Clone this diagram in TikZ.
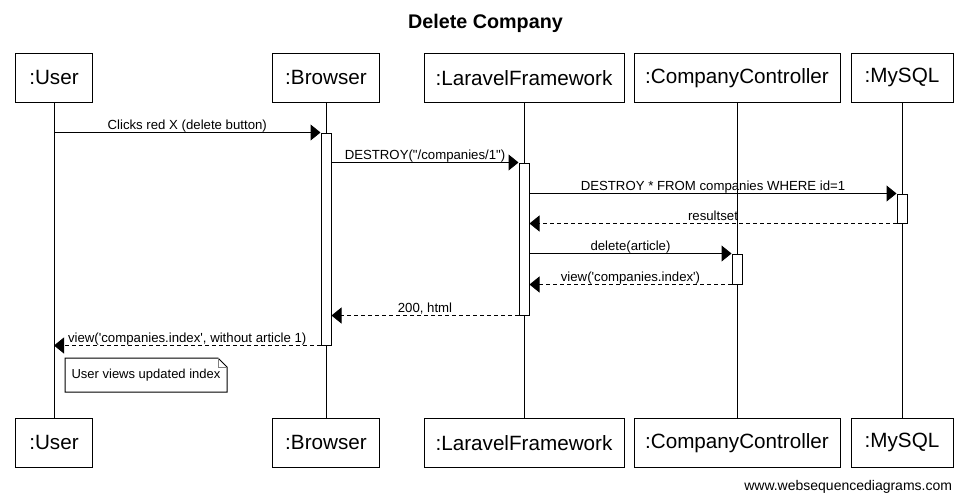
\documentclass[tikz,border=0pt]{standalone}
\usepackage{fontspec}
\setmainfont{Liberation Sans}[Ligatures=TeXOff]
\usetikzlibrary{arrows.meta,calc}

\tikzset{every picture/.style={line width=0.75pt}}
\tikzset{
  actor/.style={draw, fill=white, minimum height=36.75pt, inner sep=0pt, font=\fontsize{15.5pt}{18pt}\selectfont},
  activation/.style={draw, fill=white, minimum width=7.5pt, inner sep=0pt},
  msg/.style={-{Triangle[length=7.5pt,width=12pt]}},
  reply/.style={msg, dash pattern=on 3pt off 2.25pt},
  msglabel/.style={anchor=base, yshift=2.6pt, inner sep=0pt, font=\fontsize{9.9pt}{11pt}\selectfont},
  notebox/.style={inner sep=0pt, minimum width=120.75pt, minimum height=24.75pt, font=\fontsize{9.75pt}{11pt}\selectfont}
}

\begin{document}
\begin{tikzpicture}[x=0.75pt,y=0.75pt,yscale=-1,xscale=1]
\useasboundingbox (0,0) rectangle (967,501);

% Text Node
\node [font=\bfseries\fontsize{14.8pt}{17pt}\selectfont] (title) at (485.5,23) {Delete Company};

%Shape: Rectangle (top participants)
\node [actor, minimum width=58pt] (user) at (54,77.8) {:User};
\node [actor, minimum width=80.8pt] (browser) at (326,77.8) {:Browser};
\node [actor, minimum width=150pt] (laravel) at (524,77.8) {:LaravelFramework};
\node [actor, minimum width=154.5pt] (controller) at (737,77.8) {:CompanyController};
\node [actor, minimum width=76.5pt] (mysql) at (902,77.8) {:MySQL};
%Shape: Rectangle (bottom participants)
\node [actor, minimum width=58pt] (userB) at (54,442.8) {:User};
\node [actor, minimum width=80.8pt] (browserB) at (326,442.8) {:Browser};
\node [actor, minimum width=150pt] (laravelB) at (524,442.8) {:LaravelFramework};
\node [actor, minimum width=154.5pt] (controllerB) at (737,442.8) {:CompanyController};
\node [actor, minimum width=76.5pt] (mysqlB) at (902,442.8) {:MySQL};

%Straight Lines (lifelines)
\draw (user) -- (userB);
\draw (browser) -- (browserB);
\draw (laravel) -- (laravelB);
\draw (controller) -- (controllerB);
\draw (mysql) -- (mysqlB);

%Shape: Rectangle (activations)
\node [activation, minimum height=159pt] (actB) at (326,239) {};
\node [activation, minimum height=114pt] (actL) at (524,239) {};
\node [activation, minimum height=21.75pt] (actM) at (902,208.5) {};
\node [activation, minimum height=22.5pt] (actC) at (737,269) {};

%Straight Lines (messages)
\draw [msg] (actB.north west -| user) -- node [msglabel] {Clicks red X (delete button)} (actB.north west);
\draw [msg] (actB.east |- actL.north) -- node [msglabel] {DESTROY("/companies/1")} (actL.north west);
\draw [msg] (actL.east |- actM.north) -- node [msglabel] {DESTROY * FROM companies WHERE id=1} (actM.north west);
\draw [reply] (actM.south west) -- node [msglabel] {resultset} (actM.south west -| actL.east);
\draw [msg] (actL.east |- actC.north) -- node [msglabel] {delete(article)} (actC.north west);
\draw [reply] (actC.south west) -- node [msglabel] {view('companies.index')} (actC.south west -| actL.east);
\draw [reply] (actL.south west) -- node [msglabel] {200, html} (actL.south west -| actB.east);
\draw [reply] (actB.south west) -- node [msglabel] {view('companies.index', without article 1)} (actB.south west -| user);

%Shape: Note
\node [notebox] (noteUser) at (146,375) {User views updated index};
\draw (noteUser.north west) -- ($(noteUser.north east)+(-9,0)$) -- ($(noteUser.north east)+(0,9)$) -- (noteUser.south east) -- (noteUser.south west) -- cycle;
\draw [gray] ($(noteUser.north east)+(-9,0)$) -- ($(noteUser.north east)+(-9,9)$) -- ($(noteUser.north east)+(0,9)$);

% Text Node
\node [anchor=east, font=\fontsize{10.5pt}{12pt}\selectfont] (credit) at (957,487) {www.websequencediagrams.com};

\end{tikzpicture}
\end{document}
